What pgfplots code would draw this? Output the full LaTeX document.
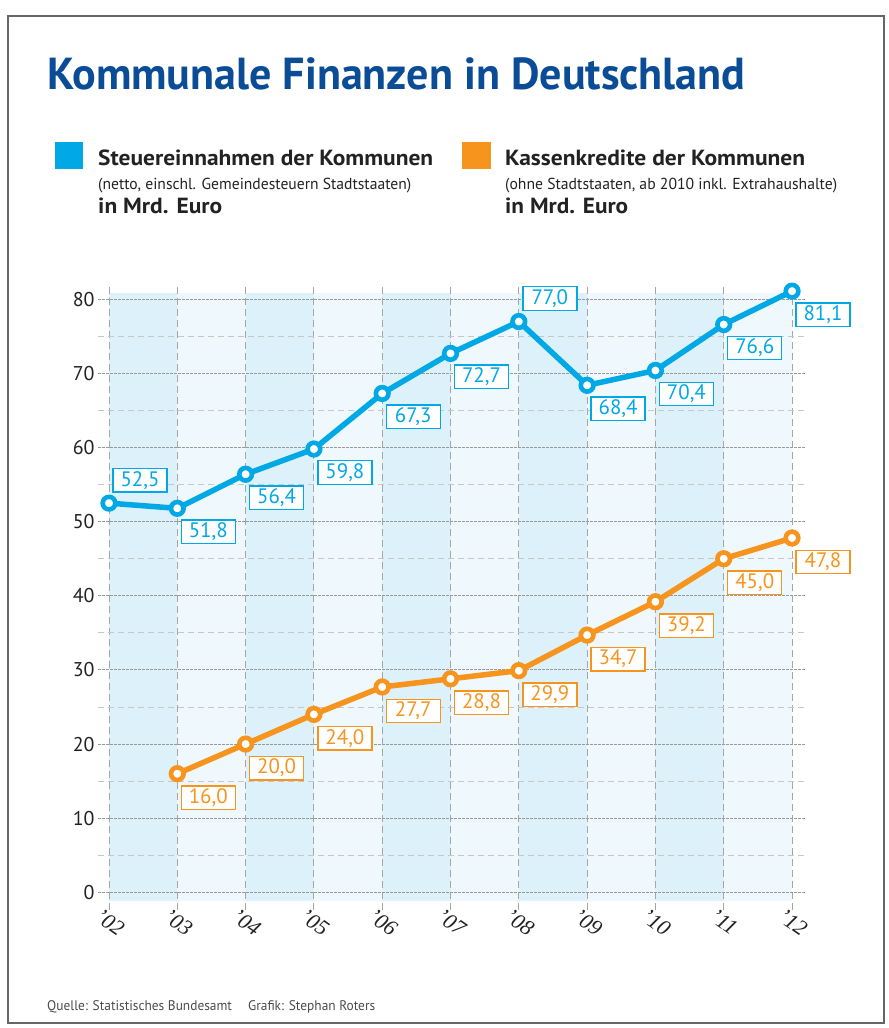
\documentclass[border=0pt]{standalone}
\usepackage{pgfplots}
\pgfplotsset{compat=1.18}
\usepackage{fontspec}
\setmainfont{PT Sans}
\newfontfamily\tickfont{Liberation Serif}
\usepackage{graphicx}
\definecolor{cblue}{HTML}{00A8E6}
\definecolor{corange}{HTML}{F7941D}
\definecolor{ctitle}{HTML}{0B4C96}
\definecolor{bandA}{HTML}{DDF1FA}
\definecolor{bandB}{HTML}{EEF8FD}
\definecolor{ctext}{HTML}{222222}
\tikzset{
  label blue/.style={draw=cblue, fill=white, text=cblue, line width=1.4bp, minimum width=54bp, minimum height=23.5bp, inner sep=0pt, font=\fontsize{21}{24}\selectfont, anchor=center, xshift=31bp},
  label orange/.style={draw=corange, fill=white, text=corange, line width=1.4bp, minimum width=54bp, minimum height=23.5bp, inner sep=0pt, font=\fontsize{21}{24}\selectfont, anchor=center, xshift=31bp},
}
\begin{document}
\begin{tikzpicture}
\path (0,0) rectangle (889bp,-1028bp);
\draw[line width=2bp, color=black!60] (8bp,-16bp) rectangle (884bp,-1023bp);
% title
\node[anchor=base west, inner sep=0pt, text=ctitle] at (47bp,-89bp)
  {\resizebox{698bp}{\height}{\fontsize{45}{50}\selectfont\bfseries Kommunale Finanzen in Deutschland}};
% legend
\fill[cblue] (55bp,-142bp) rectangle (83bp,-169bp);
\fill[corange] (462bp,-142bp) rectangle (491bp,-169bp);
\node[anchor=base west, inner sep=0pt, text=ctext] at (98bp,-165bp)
  {\resizebox{335bp}{\height}{\fontsize{22}{26}\selectfont\bfseries Steuereinnahmen der Kommunen}};
\node[anchor=base west, inner sep=0pt, text=ctext] at (98bp,-189bp)
  {\resizebox{313bp}{\height}{\fontsize{16}{19}\selectfont (netto, einschl. Gemeindesteuern Stadtstaaten)}};
\node[anchor=base west, inner sep=0pt, text=ctext] at (98bp,-213bp)
  {\resizebox{124bp}{\height}{\fontsize{22}{26}\selectfont\bfseries in Mrd. Euro}};
\node[anchor=base west, inner sep=0pt, text=ctext] at (505bp,-165bp)
  {\resizebox{300bp}{\height}{\fontsize{22}{26}\selectfont\bfseries Kassenkredite der Kommunen}};
\node[anchor=base west, inner sep=0pt, text=ctext] at (505bp,-189bp)
  {\resizebox{332bp}{\height}{\fontsize{16}{19}\selectfont (ohne Stadtstaaten, ab 2010 inkl. Extrahaushalte)}};
\node[anchor=base west, inner sep=0pt, text=ctext] at (505bp,-213bp)
  {\resizebox{123bp}{\height}{\fontsize{22}{26}\selectfont\bfseries in Mrd. Euro}};
% footer
\node[anchor=base west, inner sep=0pt, text=black!70] at (47bp,-1010bp)
  {\resizebox{328bp}{\height}{\fontsize{14}{17}\selectfont Quelle: Statistisches Bundesamt\hspace{1.2em}Grafik: Stephan Roters}};
\begin{axis}[
  at={(98bp,-910bp)}, anchor=south west,
  scale only axis, width=707bp, height=625bp,
  xmin=2001.839, xmax=2012.19, ymin=-2.39, ymax=81.93,
  clip=false, set layers=standard,
  axis line style={draw=none},
  tick style={draw=none},
  xtick={2002,2003,...,2012},
  xticklabels={’02,’03,’04,’05,’06,’07,’08,’09,’10,’11,’12},
  ytick={0,10,...,80},
  minor ytick={5,15,...,75},
  xmajorgrids, ymajorgrids, yminorgrids,
  every major x grid/.style={color=black!35, line width=0.9bp, dash pattern=on 7bp off 4bp},
  every major y grid/.style={color=black!40, line width=0.9bp, dash pattern=on 2.5bp off 1.5bp},
  every minor y grid/.style={color=black!22, line width=0.9bp, dash pattern=on 6bp off 4bp},
  /pgf/number format/assume math mode=true,
  yticklabel style={font=\fontsize{20}{24}\selectfont, text=ctext},
  xticklabel style={font=\tickfont\itshape\fontsize{22}{24}\selectfont, text=ctext, rotate=-35, anchor=north west, xshift=-8bp, yshift=-1bp, inner sep=1bp},
]
\begin{pgfonlayer}{axis background}
\fill[bandA] (axis cs:2002,-1.17) rectangle (axis cs:2003,80.85);
\fill[bandB] (axis cs:2003,-1.17) rectangle (axis cs:2004,80.85);
\fill[bandA] (axis cs:2004,-1.17) rectangle (axis cs:2005,80.85);
\fill[bandB] (axis cs:2005,-1.17) rectangle (axis cs:2006,80.85);
\fill[bandA] (axis cs:2006,-1.17) rectangle (axis cs:2007,80.85);
\fill[bandB] (axis cs:2007,-1.17) rectangle (axis cs:2008,80.85);
\fill[bandA] (axis cs:2008,-1.17) rectangle (axis cs:2009,80.85);
\fill[bandB] (axis cs:2009,-1.17) rectangle (axis cs:2010,80.85);
\fill[bandA] (axis cs:2010,-1.17) rectangle (axis cs:2011,80.85);
\fill[bandB] (axis cs:2011,-1.17) rectangle (axis cs:2012,80.85);
\end{pgfonlayer}
\addplot[cblue, line width=5.5bp, mark=*, mark size=6.3bp, mark options={fill=white, draw=cblue, line width=4.6bp}]
  coordinates {(2002,52.5) (2003,51.8) (2004,56.4) (2005,59.8) (2006,67.3) (2007,72.7) (2008,77.0) (2009,68.4) (2010,70.4) (2011,76.6) (2012,81.1)};
\addplot[corange, line width=5.5bp, mark=*, mark size=6.3bp, mark options={fill=white, draw=corange, line width=4.6bp}]
  coordinates {(2003,16.0) (2004,20.0) (2005,24.0) (2006,27.7) (2007,28.8) (2008,29.9) (2009,34.7) (2010,39.2) (2011,45.0) (2012,47.8)};
% labels below right
\addplot[draw=none, mark=none, nodes near coords, point meta=explicit symbolic,
  every node near coord/.append style={label blue, yshift=-23.5bp}]
  table[meta=l] {
x y l
2003 51.8 51,8
2004 56.4 56,4
2005 59.8 59,8
2006 67.3 67,3
2007 72.7 72,7
2009 68.4 68,4
2010 70.4 70,4
2011 76.6 76,6
2012 81.1 81,1
};
\addplot[draw=none, mark=none, nodes near coords, point meta=explicit symbolic,
  every node near coord/.append style={label blue, yshift=23bp}]
  table[meta=l] {
x y l
2002 52.5 52,5
2008 77.0 77,0
};
\addplot[draw=none, mark=none, nodes near coords, point meta=explicit symbolic,
  every node near coord/.append style={label orange, yshift=-24bp}]
  table[meta=l] {
x y l
2003 16.0 16,0
2004 20.0 20,0
2005 24.0 24,0
2006 27.7 27,7
2007 28.8 28,8
2008 29.9 29,9
2009 34.7 34,7
2010 39.2 39,2
2011 45.0 45,0
2012 47.8 47,8
};
\end{axis}
\end{tikzpicture}
\end{document}
